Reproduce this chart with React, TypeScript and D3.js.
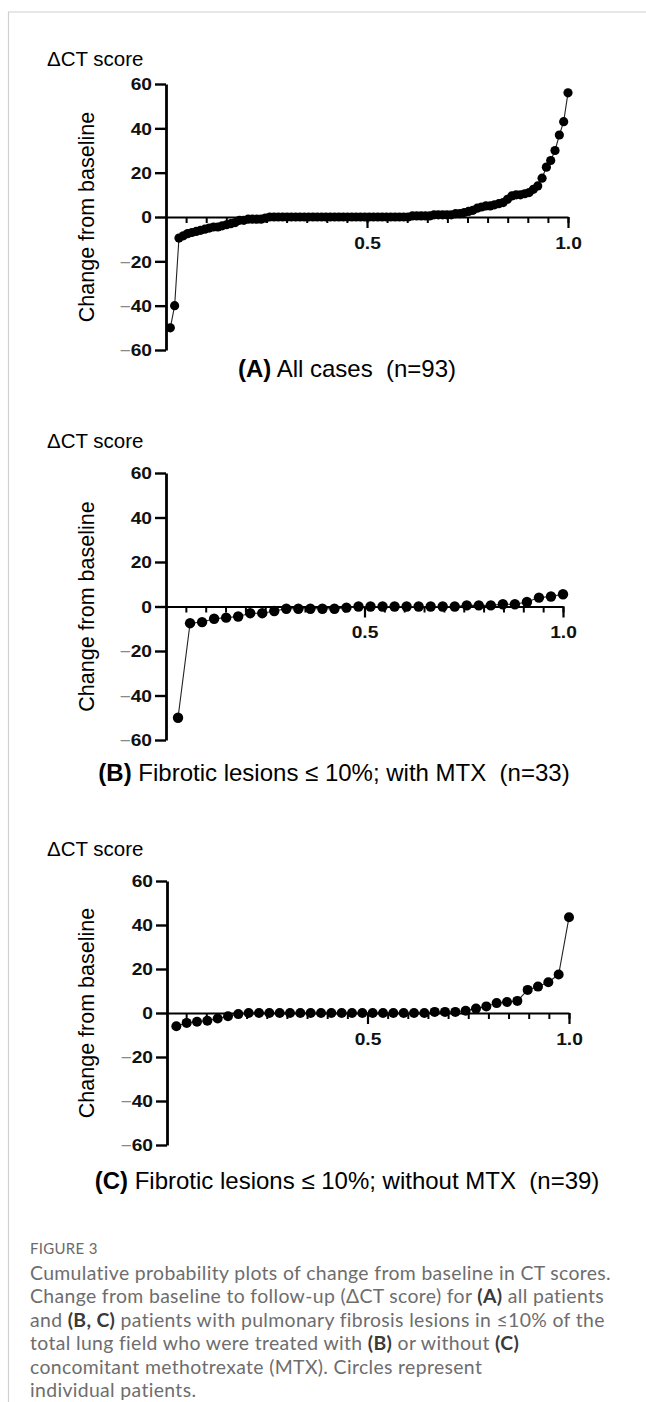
import React, { useRef, useEffect } from 'react';
import * as d3 from 'd3';

// change from baseline, sorted, one value per patient
const allCases = [
  -50, -40, -9.5, -8.5, -7.5, -7, -6.5, -6, -5.5, -5, -4.5, -4.5, -4, -3.5, -3, -2.5, -1.5, -1.5, -1, -1,
  -1, -1, -0.5, 0, 0, 0, 0, 0, 0, 0, 0, 0, 0, 0, 0, 0, 0, 0, 0, 0, 0, 0, 0, 0, 0, 0, 0, 0, 0, 0, 0, 0, 0,
  0, 0, 0, 0.5, 0.5, 0.5, 0.5, 0.5, 1, 1, 1, 1, 1, 1.5, 1.5, 2, 2.5, 3, 4, 4.5, 5, 5, 5.5, 6, 6.5, 8, 9.5,
  10, 10, 10.5, 11, 12.5, 14, 17.5, 22.5, 25.5, 30, 37, 43, 56
];
const withMtx = [
  -50, -7.5, -7, -5.5, -5, -4.5, -3, -3, -2, -1, -1, -1, -1, -1, -0.5, 0, 0, 0, 0, 0, 0, 0, 0, 0,
  0.5, 0.5, 0.5, 1, 1, 2, 4, 4.5, 5.5
];
const withoutMtx = [
  -6, -4.5, -4, -3.5, -2.5, -1.5, -0.5, 0, 0, 0, 0, 0, 0, 0, 0, 0, 0, 0, 0, 0, 0, 0, 0, 0, 0,
  0.5, 0.5, 0.5, 1, 2, 3, 4.5, 5, 5.5, 10.5, 12, 14, 17.5, 43.5
];

const yTicks = [-60, -40, -20, 0, 20, 40, 60];
const xMinorTicks = d3.range(1, 21).map((i) => i * 0.05);
const xMajorTicks = [0.5, 1.0];
const scoreLabel = 'ΔCT score';
const yLabel = 'Change from baseline';
const panelTitles = [
  ['(A)', ' All cases  (n=93)'],
  ['(B)', ' Fibrotic lesions ≤ 10%; with MTX  (n=33)'],
  ['(C)', ' Fibrotic lesions ≤ 10%; without MTX  (n=39)']
];
const figureLabel = 'FIGURE 3';
const captionLines = [
  [['Cumulative probability plots of change from baseline in CT scores.', 0]],
  [['Change from baseline to follow-up (ΔCT score) for ', 0], ['(A)', 1], [' all patients', 0]],
  [['and ', 0], ['(B, C)', 1], [' patients with pulmonary fibrosis lesions in ≤10% of the', 0]],
  [['total lung field who were treated with ', 0], ['(B)', 1], [' or without ', 0], ['(C)', 1]],
  [['concomitant methotrexate (MTX). Circles represent', 0]],
  [['individual patients.', 0]]
];

const panels = [
  { values: allCases, x0: 166, x1: 568, top: 84, bottom: 350, axisX: 166, scoreY: 66, titleY: 377, titleX: 347, r: 4.6 },
  { values: withMtx, x0: 166, x1: 563, top: 473, bottom: 740, axisX: 166, scoreY: 448, titleY: 781, titleX: 334, r: 5.2 },
  { values: withoutMtx, x0: 166, x1: 569, top: 881, bottom: 1145, axisX: 167, scoreY: 856, titleY: 1189, titleX: 347, r: 5 }
];

const FONT = '"Liberation Sans", Arial, Helvetica, sans-serif';
const CAPTION_FONT = 'Lato, "Open Sans", sans-serif';

const draw = (svgEl) => {
  const svg = d3.select(svgEl);
  svg.selectAll('*').remove();

  // page frame
  svg.append('line').attr('x1', 8).attr('x2', 646).attr('y1', 12).attr('y2', 12)
    .attr('stroke', '#d0d0d0').attr('stroke-width', 1.2);
  svg.append('line').attr('x1', 8.5).attr('x2', 8.5).attr('y1', 12).attr('y2', 1402)
    .attr('stroke', '#d0d0d0').attr('stroke-width', 1.2);

  panels.forEach((p, k) => {
    const g = svg.append('g');
    const x = d3.scaleLinear().domain([0, 1]).range([p.x0, p.x1]);
    const y = d3.scaleLinear().domain([-60, 60]).range([p.bottom, p.top]);
    const pts = p.values.map((v, i) => ({ q: (i + 1) / p.values.length, v }));

    // score label
    g.append('text').attr('x', 47).attr('y', p.scoreY)
      .attr('font-family', FONT).attr('font-size', 20.5).text(scoreLabel);

    // y label
    g.append('text')
      .attr('transform', `translate(94,${(p.top + p.bottom) / 2}) rotate(-90)`)
      .attr('text-anchor', 'middle').attr('font-family', FONT).attr('font-size', 21.5)
      .text(yLabel);

    // x axis at zero: minor ticks
    const xMinor = g.append('g').attr('transform', `translate(0,${y(0)})`)
      .call(d3.axisBottom(x).tickValues(xMinorTicks).tickSize(6).tickSizeOuter(0).tickFormat(() => ''));
    xMinor.select('.domain').attr('stroke-width', 2);
    xMinor.selectAll('.tick line').attr('stroke-width', 2);

    const xMajor = g.append('g').attr('transform', `translate(0,${y(0)})`)
      .call(d3.axisBottom(x).tickValues(xMajorTicks).tickSize(11).tickSizeOuter(0).tickFormat(d3.format('.1f')));
    xMajor.select('.domain').remove();
    xMajor.selectAll('.tick line').attr('stroke-width', 2.2);
    xMajor.selectAll('.tick text')
      .attr('y', null).attr('dy', null)
      .attr('transform', 'translate(0,31.5) scale(1.2,1)')
      .attr('font-family', FONT).attr('font-weight', 'bold').attr('font-size', 16).attr('fill', '#111');

    // y axis
    const yAxis = g.append('g').attr('transform', `translate(${p.axisX},0)`)
      .call(d3.axisLeft(y).tickValues(yTicks).tickSize(11).tickSizeOuter(0).tickFormat((d) => String(Math.abs(d))));
    yAxis.select('.domain').attr('stroke-width', 2.8);
    yAxis.selectAll('.tick line').attr('stroke-width', 2.4);
    yAxis.selectAll('.tick text')
      .attr('x', null).attr('dy', null)
      .attr('transform', 'translate(-14,5.8) scale(1.2,1)')
      .attr('font-family', FONT).attr('font-weight', 'bold').attr('font-size', 16).attr('fill', '#111')
      .each(function (d) {
        if (d < 0) {
          const t = d3.select(this);
          const s = t.text();
          t.text(null);
          t.append('tspan').attr('fill', '#888').attr('font-weight', 'normal').text('−');
          t.append('tspan').text(s);
        }
      });

    // connecting line + dots
    const line = d3.line().x((d) => x(d.q)).y((d) => y(d.v));
    g.append('path').datum(pts).attr('d', line).attr('fill', 'none')
      .attr('stroke', '#222').attr('stroke-width', 1.1);
    g.selectAll('circle.pt').data(pts).enter().append('circle')
      .attr('class', 'pt').attr('cx', (d) => x(d.q)).attr('cy', (d) => y(d.v))
      .attr('r', p.r).attr('fill', '#000');

    // panel title
    const t = g.append('text').attr('x', p.titleX).attr('y', p.titleY).attr('text-anchor', 'middle')
      .attr('font-family', FONT).attr('font-size', 24).style('white-space', 'pre');
    t.append('tspan').attr('font-weight', 'bold').text(panelTitles[k][0]);
    t.append('tspan').text(panelTitles[k][1]);
  });

  // caption
  svg.append('text').attr('x', 30).attr('y', 1254)
    .attr('font-family', CAPTION_FONT).attr('font-size', 15).attr('fill', '#6a6a6a')
    .attr('letter-spacing', 0.3).text(figureLabel);

  captionLines.forEach((segs, i) => {
    const t = svg.append('text').attr('x', 30).attr('y', 1280 + i * 23.4)
      .attr('font-family', CAPTION_FONT).attr('font-size', 19.4).attr('letter-spacing', 0.35)
      .attr('fill', '#6d6d6d');
    segs.forEach(([s, b]) => {
      t.append('tspan').attr('font-weight', b ? 700 : 400).attr('fill', b ? '#3a3a3a' : '#6d6d6d').text(s);
    });
  });
};

export default function App() {
  const ref = useRef(null);

  useEffect(() => {
    if (ref.current) draw(ref.current);
  }, []);

  return (
    <svg
      ref={ref}
      width={646}
      height={1402}
      style={{ position: 'absolute', left: 0, top: 0, background: '#fff' }}
    />
  );
}
